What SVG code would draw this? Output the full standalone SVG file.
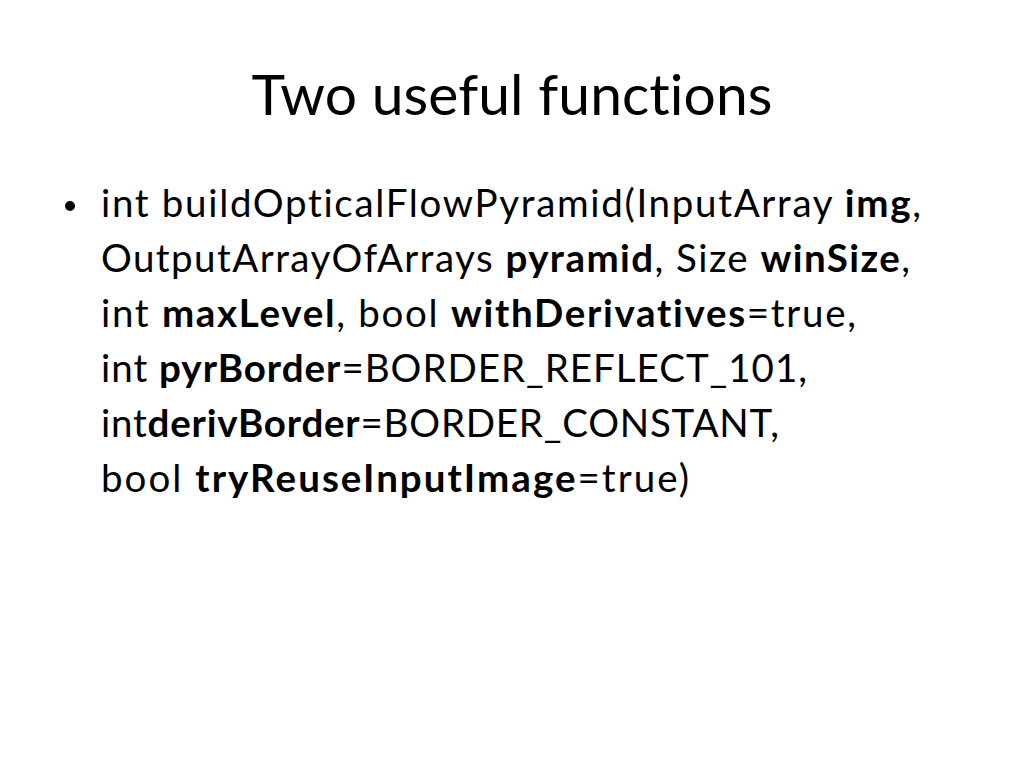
<svg xmlns="http://www.w3.org/2000/svg" width="1024" height="768" viewBox="0 0 1024 768">
<style>
.t{font-family:Lato,"Open Sans","Liberation Sans",sans-serif;fill:#000;font-variant-ligatures:none;font-feature-settings:"liga" 0,"dlig" 0}
.title{font-size:57px}
.body{font-size:38.5px}
.b{font-weight:bold}
</style>
<rect width="1024" height="768" fill="#fff"/>
<g id="title">
<text class="t title" x="512" y="115" text-anchor="middle" textLength="521" lengthAdjust="spacing">Two useful functions</text>
</g>
<g id="bullet">
<circle cx="70" cy="206" r="5" fill="#000"/>
<text class="t body" x="101" y="217" textLength="820" lengthAdjust="spacing">int buildOpticalFlowPyramid(InputArray <tspan class="b">img</tspan>,</text>
<text class="t body" x="101" y="272" textLength="809" lengthAdjust="spacing">OutputArrayOfArrays <tspan class="b">pyramid</tspan>, Size <tspan class="b">winSize</tspan>,</text>
<text class="t body" x="101" y="327" textLength="755" lengthAdjust="spacing">int <tspan class="b">maxLevel</tspan>, bool <tspan class="b">withDerivatives</tspan>=true,</text>
<text class="t body" x="101" y="382" textLength="706" lengthAdjust="spacing">int <tspan class="b">pyrBorder</tspan>=BORDER_REFLECT_101,</text>
<text class="t body" x="101" y="437" textLength="678" lengthAdjust="spacing">int<tspan class="b">derivBorder</tspan>=BORDER_CONSTANT,</text>
<text class="t body" x="101" y="492" textLength="588" lengthAdjust="spacing">bool <tspan class="b">tryReuseInputImage</tspan>=true)</text>
</g>
</svg>
